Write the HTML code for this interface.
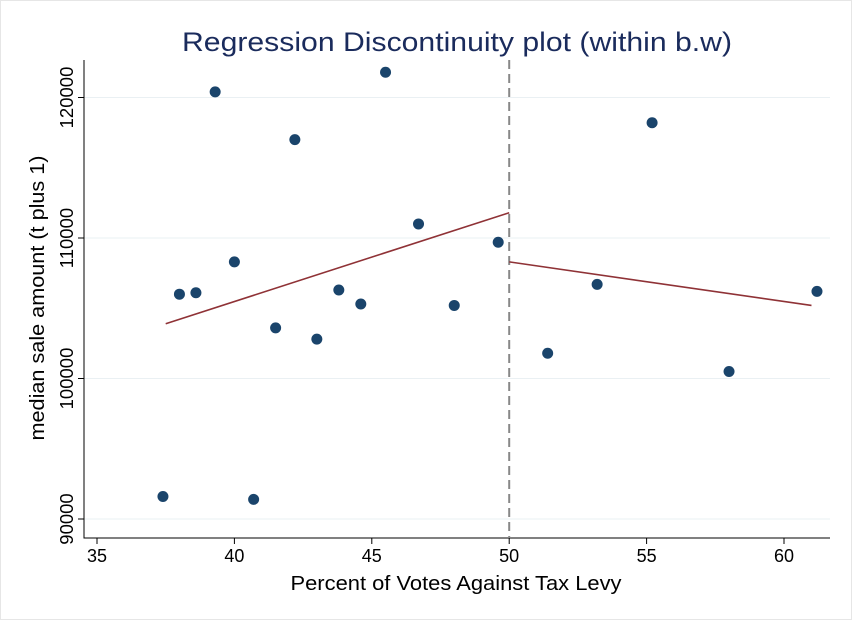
<!DOCTYPE html>
<html><head><meta charset="utf-8"><style>body{margin:0;background:#fff}svg{display:block;font-family:"Liberation Sans",sans-serif}</style></head>
<body>
<svg width="852" height="620">
<rect x="0.5" y="0.5" width="851" height="619" fill="#fff" stroke="#e6e6e6"/>
<text x="457" y="51" font-size="27" textLength="550" lengthAdjust="spacingAndGlyphs" fill="#1a2b5c" text-anchor="middle">Regression Discontinuity plot (within b.w)</text>
<g id="grid"></g><g id="axes"></g><g id="lines"></g><g id="pts"></g>
<text x="456" y="590" font-size="20" textLength="331" lengthAdjust="spacingAndGlyphs" text-anchor="middle" fill="#000">Percent of Votes Against Tax Levy</text>
<text transform="translate(44,298) rotate(-90)" font-size="20" textLength="285" lengthAdjust="spacingAndGlyphs" text-anchor="middle" fill="#000">median sale amount (t plus 1)</text>
</svg>
<script>
const xTicks=[35,40,45,50,55,60];
const yTicks=[90000,100000,110000,120000];
const px=[37.4,38.0,38.6,39.3,40.0,40.7,41.5,42.2,43.0,43.8,44.6,45.5,46.7,48.0,49.6,51.4,53.2,55.2,58.0,61.2];
const py=[91600,106000,106100,120400,108300,91400,103600,117000,102800,106300,105300,121800,111000,105200,109700,101800,106700,118200,100500,106200];
const fitLeftX=[37.5,50];const fitLeftY=[103900,111800];
const fitRightX=[50,61];const fitRightY=[108300,105200];
const cutoff=50;
const X=v=>97+(v-35)*27.48, Y=v=>519-(v-90000)*0.01405;
const NS="http://www.w3.org/2000/svg";
function mk(t,a,p){const e=document.createElementNS(NS,t);for(const k in a)e.setAttribute(k,a[k]);p.appendChild(e);return e;}
const grid=document.getElementById('grid'),axes=document.getElementById('axes'),lines=document.getElementById('lines'),pts=document.getElementById('pts');
const L=84,R=830,T=60,B=538;
yTicks.forEach(v=>{const g=mk('line',{x1:L,x2:R,y1:Y(v),y2:Y(v),stroke:'#eaf0f3','stroke-width':1},grid);


const t=mk('line',{x1:L-6,x2:L,y1:Y(v),y2:Y(v),stroke:'#000'},axes);


const tx=mk('text',{transform:`translate(${L-11},${Y(v)}) rotate(-90)`,'font-size':18.5,'text-anchor':'middle'},axes);tx.textContent=v;

});
xTicks.forEach(v=>{const t=mk('line',{x1:X(v),x2:X(v),y1:B,y2:B+6,stroke:'#000'},axes);


const tx=mk('text',{x:X(v),y:B+24,'font-size':18,'text-anchor':'middle'},axes);tx.textContent=v;

});
const ax=mk('path',{d:`M${L},${T}V${B}H${R}`,fill:'none',stroke:'#000'},axes);


const c=mk('line',{x1:X(cutoff),x2:X(cutoff),y1:T,y2:B,stroke:'#888','stroke-width':2,'stroke-dasharray':'9,5'},lines);


[[fitLeftX,fitLeftY,'fit-line-left'],[fitRightX,fitRightY,'fit-line-right']].forEach(([xs,ys,n])=>{const l=mk('line',{x1:X(xs[0]),y1:Y(ys[0]),x2:X(xs[1]),y2:Y(ys[1]),stroke:'#8f3236','stroke-width':1.6},lines);

});
px.forEach((v,i)=>{const p=mk('circle',{cx:X(v),cy:Y(py[i]),r:5.5,fill:'#1a446b'},pts);

});
</script>
</body></html>
